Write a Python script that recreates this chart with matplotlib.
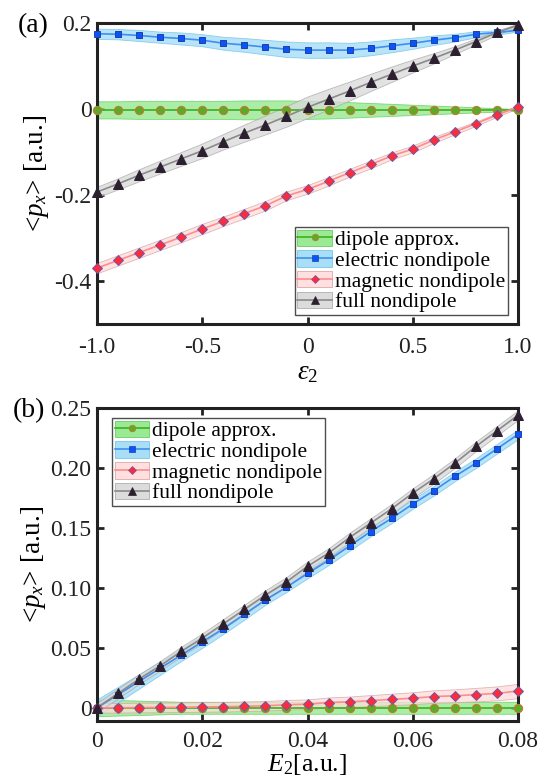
import matplotlib
matplotlib.use("Agg")
import matplotlib.pyplot as plt
import matplotlib.patches as mpatches
from matplotlib.lines import Line2D
import numpy as np

plt.rcParams['font.family'] = ['Liberation Serif', 'DejaVu Serif']
plt.rcParams['mathtext.fontset'] = 'custom'
plt.rcParams['mathtext.rm'] = 'Liberation Serif'
plt.rcParams['mathtext.it'] = 'Liberation Serif:italic'

# ---------------- data: panel (a) ----------------
eps2 = [-1.0, -0.9, -0.8, -0.7, -0.6, -0.5, -0.4, -0.3, -0.2, -0.1, 0.0,
        0.1, 0.2, 0.3, 0.4, 0.5, 0.6, 0.7, 0.8, 0.9, 1.0]
a_dipole = [-0.002, -0.002, -0.002, -0.002, -0.002, -0.002, -0.002, -0.002, -0.002, -0.002, -0.002,
            -0.002, -0.002, -0.002, -0.002, -0.002, -0.002, -0.002, -0.002, -0.002, -0.002]
a_electric = [0.175, 0.174, 0.171, 0.167, 0.164, 0.160, 0.153, 0.149, 0.144, 0.139, 0.137,
              0.137, 0.137, 0.141, 0.147, 0.153, 0.160, 0.166, 0.174, 0.178, 0.183]
a_magnetic = [-0.370, -0.352, -0.334, -0.316, -0.298, -0.279, -0.261, -0.243, -0.225, -0.202, -0.187,
              -0.168, -0.148, -0.129, -0.109, -0.093, -0.072, -0.053, -0.034, -0.014, 0.005]
a_full = [-0.193, -0.174, -0.154, -0.135, -0.116, -0.097, -0.076, -0.056, -0.037, -0.017, 0.004,
          0.023, 0.042, 0.062, 0.081, 0.100, 0.118, 0.137, 0.157, 0.178, 0.195]
# band half-widths
a_dipole_err = [0.020, 0.020, 0.021, 0.021, 0.021, 0.021, 0.021, 0.022, 0.022, 0.022, 0.021,
                0.020, 0.018, 0.016, 0.014, 0.012, 0.010, 0.008, 0.006, 0.004, 0.002]
a_electric_err = [0.012, 0.012, 0.013, 0.013, 0.014, 0.014, 0.015, 0.016, 0.017, 0.018, 0.018,
                  0.018, 0.017, 0.016, 0.015, 0.013, 0.011, 0.009, 0.007, 0.005, 0.003]
a_magnetic_err = [0.012, 0.012, 0.012, 0.012, 0.012, 0.012, 0.011, 0.011, 0.011, 0.010, 0.010,
                  0.010, 0.009, 0.009, 0.008, 0.008, 0.007, 0.006, 0.005, 0.004, 0.003]
a_full_err = [0.012, 0.013, 0.014, 0.015, 0.016, 0.017, 0.018, 0.020, 0.022, 0.024, 0.025,
              0.024, 0.022, 0.020, 0.018, 0.015, 0.012, 0.009, 0.007, 0.005, 0.003]

# ---------------- data: panel (b) ----------------
E2 = [0.000, 0.004, 0.008, 0.012, 0.016, 0.020, 0.024, 0.028, 0.032, 0.036, 0.040,
      0.044, 0.048, 0.052, 0.056, 0.060, 0.064, 0.068, 0.072, 0.076, 0.080]
b_dipole = [0.0] * 21
b_electric = [0.000, 0.011, 0.022, 0.033, 0.044, 0.055, 0.066, 0.078, 0.090, 0.1006, 0.112,
              0.123, 0.135, 0.147, 0.158, 0.170, 0.181, 0.193, 0.204, 0.216, 0.228]
b_magnetic = [0.000, 0.000, 0.0002, 0.0003, 0.0005, 0.0007, 0.0009, 0.0012, 0.0017, 0.0025, 0.003,
              0.0044, 0.005, 0.006, 0.007, 0.008, 0.0094, 0.010, 0.011, 0.012, 0.014]
b_full = [0.000, 0.012, 0.024, 0.035, 0.047, 0.058, 0.070, 0.082, 0.094, 0.105, 0.118,
          0.129, 0.142, 0.154, 0.166, 0.179, 0.191, 0.204, 0.218, 0.231, 0.244]
b_dipole_err = [0.007, 0.0065, 0.006, 0.0055, 0.005, 0.005, 0.005, 0.005, 0.005, 0.005, 0.005,
                0.005, 0.005, 0.005, 0.005, 0.005, 0.005, 0.005, 0.005, 0.005, 0.005]
b_electric_err = [0.007, 0.0065, 0.006, 0.0055, 0.005, 0.005, 0.0045, 0.0045, 0.004, 0.004, 0.004,
                  0.004, 0.004, 0.004, 0.004, 0.004, 0.004, 0.004, 0.004, 0.004, 0.004]
b_magnetic_err = [0.004, 0.004, 0.004, 0.004, 0.004, 0.004, 0.004, 0.004, 0.004, 0.004, 0.004,
                  0.0042, 0.0044, 0.0046, 0.0048, 0.005, 0.0052, 0.0054, 0.0056, 0.0058, 0.006]
b_full_err = [0.004, 0.004, 0.004, 0.004, 0.004, 0.004, 0.004, 0.004, 0.004, 0.004, 0.004,
              0.004, 0.004, 0.004, 0.004, 0.004, 0.004, 0.004, 0.004, 0.004, 0.004]

labels = ['dipole approx.', 'electric nondipole', 'magnetic nondipole', 'full nondipole']

a_xticks = [-1.0, -0.5, 0.0, 0.5, 1.0]
a_xticklabels = ['-1.0', '-0.5', '0', '0.5', '1.0']
a_yticks = [-0.4, -0.2, 0.0, 0.2]
a_yticklabels = ['-0.4', '-0.2', '0', '0.2']
b_xticks = [0.0, 0.02, 0.04, 0.06, 0.08]
b_xticklabels = ['0', '0.02', '0.04', '0.06', '0.08']
b_yticks = [0.0, 0.05, 0.10, 0.15, 0.20, 0.25]
b_yticklabels = ['0', '0.05', '0.10', '0.15', '0.20', '0.25']

# ---------------- styles ----------------
styles = [
    dict(band='#8fe88a', band_edge='#5ccc55', line='#3fae1e', marker='o', mfc='#5ea82a', mec='#c8762a', ms=6.0),
    dict(band='#9fdcf6', band_edge='#6cc2ea', line='#3f8ff0', marker='s', mfc='#0a55f5', mec='#1f3fb0', ms=5.0),
    dict(band='#ffdcdc', band_edge='#d9a0a0', line='#ff8c8c', marker='D', mfc='#ff2a3a', mec='#6a5aa8', ms=5.0),
    dict(band='#d9d9d9', band_edge='#a8a8a8', line='#8a8a8a', marker='^', mfc='#2c2030', mec='#2c2030', ms=6.5),
]

TICK_FS = 17
LABEL_FS = 19.5
LEG_FS = 15.5

fig = plt.figure(figsize=(5.41, 7.83), dpi=100)
ax1 = fig.add_axes([0.1793, 0.5862, 0.7782, 0.3844])
ax2 = fig.add_axes([0.1793, 0.0792, 0.7782, 0.3997])


def draw(ax, x, series, errs):
    x = np.array(x)
    for (y, e, st) in zip(series, errs, styles):
        y = np.array(y); e = np.array(e)
        ax.fill_between(x, y - e, y + e, facecolor=st['band'], edgecolor=st['band_edge'],
                        linewidth=0.6, alpha=0.75, zorder=2)
    for (y, st) in zip(series, styles):
        ax.plot(x, y, color=st['line'], lw=1.2, zorder=3, clip_on=False)
        ax.plot(x, y, ls='none', marker=st['marker'], ms=st['ms'], mfc=st['mfc'],
                mec=st['mec'], mew=0.7, zorder=4, clip_on=False)


def style_axes(ax, xpad):
    for sp in ax.spines.values():
        sp.set_linewidth(2.2)
        sp.set_color('#222222')
    ax.tick_params(direction='in', length=5, width=2.0, top=True, right=True,
                   labelsize=TICK_FS, colors='#222222', labelcolor='#222222')
    ax.tick_params(axis='x', pad=xpad)
    ax.tick_params(axis='y', pad=4)


def legend_handles():
    hs = []
    for st in styles:
        p = mpatches.Patch(facecolor=st['band'], edgecolor=st['band_edge'], lw=0.6, alpha=0.9)
        l = Line2D([], [], color=st['line'], lw=1.2, marker=st['marker'], ms=st['ms'] * 0.8,
                   mfc=st['mfc'], mec=st['mec'], mew=0.5)
        hs.append((p, l))
    return hs


def add_legend(ax, loc, anchor):
    leg = ax.legend(legend_handles(), labels, loc=loc, bbox_to_anchor=anchor,
                    fontsize=LEG_FS, frameon=True, fancybox=False, edgecolor='#222222',
                    handlelength=1.6, handleheight=0.8, handletextpad=0.15, labelspacing=0.0,
                    borderpad=0.12, borderaxespad=0.0)
    leg.get_frame().set_linewidth(1.0)
    return leg


draw(ax1, eps2, [a_dipole, a_electric, a_magnetic, a_full],
     [a_dipole_err, a_electric_err, a_magnetic_err, a_full_err])
ax1.set_xlim(-1, 1)
ax1.set_ylim(-0.5, 0.2)
ax1.set_xticks(a_xticks)
ax1.set_xticklabels(a_xticklabels)
ax1.set_yticks(a_yticks)
ax1.set_yticklabels(a_yticklabels)
style_axes(ax1, 9)
ax1.set_xlabel(r'$\varepsilon_{\mathrm{2}}$', fontsize=LABEL_FS, labelpad=2)
ax1.set_ylabel(r'<$p_x$> [a.u.]', fontsize=LABEL_FS, labelpad=2)
add_legend(ax1, 'lower right', (0.976, 0.03))

draw(ax2, E2, [b_dipole, b_electric, b_magnetic, b_full],
     [b_dipole_err, b_electric_err, b_magnetic_err, b_full_err])
ax2.set_xlim(0, 0.08)
ax2.set_ylim(-0.011, 0.25)
ax2.set_xticks(b_xticks)
ax2.set_xticklabels(b_xticklabels)
ax2.set_yticks(b_yticks)
ax2.set_yticklabels(b_yticklabels)
style_axes(ax2, 7)
ax2.set_xlabel(r'$E_{\mathrm{2}}$[a.u.]', fontsize=LABEL_FS - 1, labelpad=0)
ax2.set_ylabel(r'<$p_x$> [a.u.]', fontsize=LABEL_FS, labelpad=2)
add_legend(ax2, 'upper left', (0.036, 0.968))

fig.text(0.033, 0.967, '(a)', fontsize=20, va='center', ha='left')
fig.text(0.024, 0.476, '(b)', fontsize=20, va='center', ha='left')

fig.savefig('out.png', dpi=100)
